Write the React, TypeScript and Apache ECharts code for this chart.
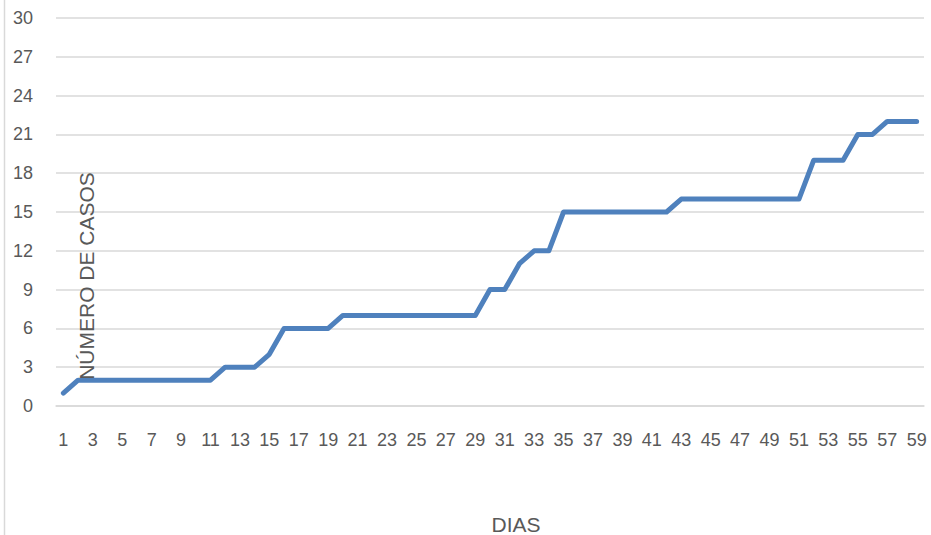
import React, { useEffect, useRef } from "react";
import * as echarts from "echarts";

const days: string[] = Array.from({ length: 59 }, (_, i) => String(i + 1));
const casos: number[] = [
  1, 2, 2, 2, 2, 2, 2, 2, 2, 2, 2, 3, 3, 3, 4, 6, 6, 6, 6, 7,
  7, 7, 7, 7, 7, 7, 7, 7, 7, 9, 9, 11, 12, 12, 15, 15, 15, 15, 15, 15,
  15, 15, 16, 16, 16, 16, 16, 16, 16, 16, 16, 19, 19, 19, 21, 21, 22, 22, 22,
];
const yAxisTitle = "NÚMERO DE CASOS";
const xAxisTitle = "DIAS";

const FONT = "'Liberation Sans', Arial, sans-serif";
const TEXT = "#595959";
const GRID = "#d9d9d9";

export default function App() {
  const ref = useRef<HTMLDivElement>(null);
  useEffect(() => {
    if (!ref.current) return;
    const chart = echarts.init(ref.current, null, { renderer: "svg" });
    chart.setOption({
      animation: false,
      backgroundColor: "#ffffff",
      grid: { left: 56, right: 7, top: 18, bottom: 129, containLabel: false },
      xAxis: {
        type: "category",
        data: days,
        boundaryGap: true,
        axisLine: { show: true, lineStyle: { color: GRID, width: 1.5 } },
        axisTick: { show: false },
        axisLabel: {
          interval: 1,
          color: TEXT,
          fontFamily: FONT,
          fontSize: 18,
          margin: 25,
        },
        splitLine: { show: false },
      },
      yAxis: {
        type: "value",
        min: 0,
        max: 30,
        interval: 3,
        axisLine: { show: false },
        axisTick: { show: false },
        axisLabel: {
          color: TEXT,
          fontFamily: FONT,
          fontSize: 18,
          margin: 23,
        },
        splitLine: { show: true, lineStyle: { color: GRID, width: 1.5 } },
      },
      series: [
        {
          type: "line",
          data: casos,
          symbol: "none",
          smooth: false,
          lineStyle: { color: "#4f81bd", width: 5, cap: "round", join: "round" },
        },
      ],
      graphic: [
        {
          type: "line",
          shape: { x1: 4.5, y1: 0, x2: 4.5, y2: 535 },
          style: { stroke: GRID, lineWidth: 1.5 },
          silent: true,
        },
        {
          type: "text",
          x: 86,
          y: 276,
          rotation: Math.PI / 2,
          style: {
            text: yAxisTitle,
            fill: TEXT,
            font: `21px ${FONT}`,
            textAlign: "center",
            textVerticalAlign: "middle",
          },
          z: 100,
        },
        {
          type: "text",
          x: 516,
          y: 524,
          style: {
            text: xAxisTitle,
            fill: TEXT,
            font: `21px ${FONT}`,
            textAlign: "center",
            textVerticalAlign: "middle",
          },
        },
      ],
    });
    return () => chart.dispose();
  }, []);
  return <div ref={ref} style={{ width: 931, height: 535, position: "absolute", left: 0, top: 0 }} />;
}
